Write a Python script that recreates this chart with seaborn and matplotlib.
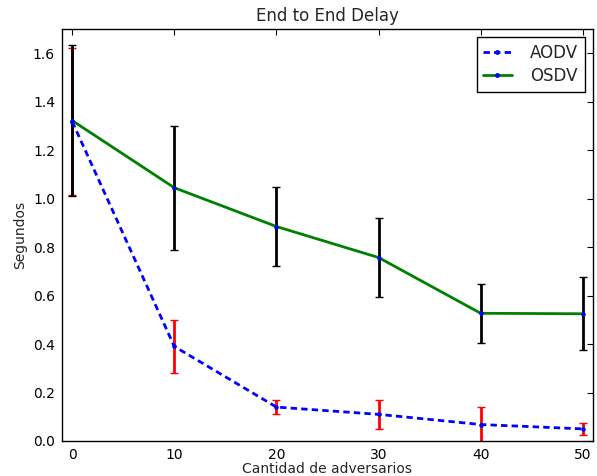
import matplotlib
matplotlib.use("Agg")
import matplotlib.pyplot as plt
import seaborn as sns
import pandas as pd
from matplotlib.lines import Line2D

adversarios = [0, 10, 20, 30, 40, 50]
aodv_mean = [1.318, 0.39, 0.14, 0.11, 0.068, 0.05]
aodv_err = [0.305, 0.11, 0.028, 0.06, 0.072, 0.026]
osdv_mean = [1.322, 1.045, 0.885, 0.757, 0.527, 0.525]
osdv_err = [0.31, 0.255, 0.163, 0.162, 0.122, 0.15]

df = pd.DataFrame({
    "x": adversarios * 2,
    "y": aodv_mean + osdv_mean,
    "proto": ["AODV"] * 6 + ["OSDV"] * 6,
})

sns.set_style("white")
plt.rcParams["font.family"] = ["DejaVu Sans"]
fig = plt.figure(figsize=(5.97, 4.76), dpi=100)
ax = fig.add_axes([62 / 597, 1 - 441 / 476, (593 - 62) / 597, (441 - 29) / 476])

ax.errorbar(adversarios, aodv_mean, yerr=aodv_err, fmt="none", ecolor="red",
            elinewidth=2, capsize=3, capthick=1, zorder=2)
ax.errorbar(adversarios, osdv_mean, yerr=osdv_err, fmt="none", ecolor="black",
            elinewidth=2, capsize=3, capthick=1, zorder=2.1)

dash = (2.3, 1.5)
sns.lineplot(data=df[df.proto == "AODV"], x="x", y="y", ax=ax, color="blue",
             linewidth=2, marker=".", markersize=5, dashes=False,
             markerfacecolor="blue", markeredgecolor="blue", legend=False, zorder=3)
ax.lines[-1].set_dashes(dash)
sns.lineplot(data=df[df.proto == "OSDV"], x="x", y="y", ax=ax, color="green",
             linestyle="-", linewidth=2, marker=".", markersize=5,
             markerfacecolor="blue", markeredgecolor="blue", legend=False, zorder=3)

ax.set_xlim(-1, 51)
ax.set_ylim(0, 1.7)
ax.set_xticks([0, 10, 20, 30, 40, 50])
yt = [0.0, 0.2, 0.4, 0.6, 0.8, 1.0, 1.2, 1.4, 1.6]
ax.set_yticks(yt)
ax.set_yticklabels([f"{v:.1f}" for v in yt])
ax.tick_params(direction="in", length=4, width=0.8, top=True, right=True,
               labelsize=10, colors="black", pad=5)
for s in ax.spines.values():
    s.set_visible(True)
    s.set_color("black")
    s.set_linewidth(1)

ax.set_title("End to End Delay", fontsize=12, pad=6)
ax.set_xlabel("Cantidad de adversarios", fontsize=10, labelpad=0)
ax.set_ylabel("Segundos", fontsize=10, labelpad=4)

h1 = Line2D([], [], color="blue", linewidth=2, marker=".",
            markersize=5, markerfacecolor="blue", markeredgecolor="blue")
h1.set_dashes(dash)
h2 = Line2D([], [], color="green", linestyle="-", linewidth=2, marker=".",
            markersize=5, markerfacecolor="blue", markeredgecolor="blue")
leg = ax.legend([h1, h2], ["AODV", "OSDV"], loc="upper right", fontsize=12,
                frameon=True, fancybox=False, edgecolor="black", framealpha=1,
                borderaxespad=0.5, handlelength=1.7, labelspacing=0.3,
                borderpad=0.4, handletextpad=1.1)
leg.get_frame().set_linewidth(1)

fig.savefig("out.png", dpi=100)
